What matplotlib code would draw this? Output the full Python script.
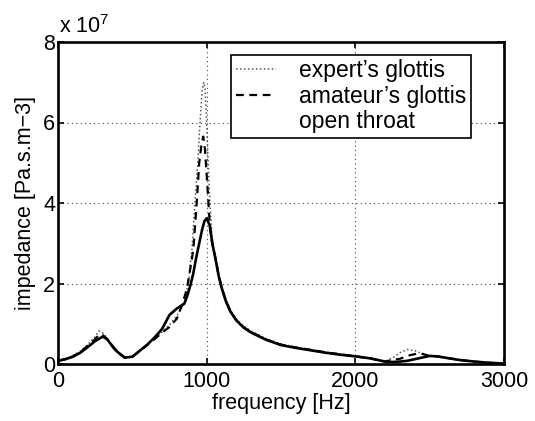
import matplotlib
matplotlib.use("Agg")
import matplotlib.pyplot as plt
from matplotlib.lines import Line2D

plt.rcParams['font.family'] = ['Liberation Sans', 'DejaVu Sans']
plt.rcParams['mathtext.fontset'] = 'custom'
plt.rcParams['mathtext.rm'] = 'Liberation Sans'
plt.rcParams['mathtext.it'] = 'Liberation Sans'

# Impedance values in units of 1e7 Pa.s.m-3, frequencies in Hz
freq_open = [0, 50, 100, 150, 200, 250, 300, 330, 350, 400, 450, 500, 550, 600, 650,
             700, 750, 800, 850, 870, 890, 910, 930, 950, 970, 985, 1000, 1020, 1040,
             1060, 1080, 1100, 1130, 1160, 1200, 1250, 1300, 1400, 1500, 1600, 1700,
             1800, 1900, 2000, 2100, 2200, 2250, 2300, 2350, 2400, 2450, 2500, 2550,
             2600, 2700, 2800, 2900, 3000]
z_open = [0.08, 0.12, 0.18, 0.28, 0.42, 0.57, 0.68, 0.62, 0.52, 0.30, 0.16, 0.18, 0.33,
          0.48, 0.66, 0.87, 1.22, 1.38, 1.50, 1.70, 1.95, 2.25, 2.65, 3.00, 3.35, 3.55,
          3.62, 3.45, 2.95, 2.60, 2.20, 1.90, 1.55, 1.30, 1.08, 0.90, 0.78, 0.60, 0.47,
          0.40, 0.34, 0.28, 0.23, 0.19, 0.14, 0.06, 0.05, 0.06, 0.08, 0.12, 0.16, 0.20,
          0.19, 0.16, 0.10, 0.06, 0.03, 0.01]

freq_amateur = [0, 50, 100, 150, 200, 250, 280, 300, 330, 350, 400, 450, 500, 550, 600,
                650, 700, 750, 800, 830, 866, 888, 910, 933, 950, 965, 977, 989, 1000,
                1011, 1020, 1035, 1050, 1080, 1100, 1130, 1160, 1200, 1250, 1300, 1400,
                1500, 1600, 1700, 1800, 1900, 2000, 2100, 2200, 2250, 2300, 2368, 2435,
                2480, 2500, 2550, 2600, 2700, 2800, 2900, 3000]
z_amateur = [0.08, 0.12, 0.19, 0.30, 0.45, 0.62, 0.74, 0.72, 0.62, 0.50, 0.28, 0.15, 0.18,
             0.32, 0.47, 0.62, 0.78, 0.92, 1.13, 1.42, 1.85, 2.33, 2.83, 4.00, 5.00, 5.45,
             5.65, 5.32, 4.70, 4.07, 3.50, 3.05, 2.80, 2.22, 1.91, 1.56, 1.31, 1.09, 0.91,
             0.79, 0.61, 0.48, 0.41, 0.35, 0.29, 0.24, 0.19, 0.14, 0.06, 0.10, 0.13, 0.22,
             0.27, 0.22, 0.20, 0.19, 0.16, 0.10, 0.06, 0.03, 0.01]

freq_expert = [0, 50, 100, 150, 200, 250, 275, 300, 330, 350, 400, 450, 500, 550, 600,
               650, 700, 750, 800, 830, 850, 877, 900, 921, 940, 955, 970, 980, 990,
               1000, 1010, 1022, 1035, 1050, 1080, 1100, 1130, 1160, 1200, 1250, 1300,
               1400, 1500, 1600, 1700, 1800, 1900, 2000, 2100, 2200, 2250, 2300, 2350,
               2400, 2450, 2500, 2550, 2600, 2700, 2800, 2900, 3000]
z_expert = [0.09, 0.13, 0.20, 0.32, 0.48, 0.68, 0.82, 0.78, 0.64, 0.52, 0.29, 0.15, 0.18,
            0.33, 0.48, 0.64, 0.80, 0.97, 1.20, 1.40, 1.55, 2.00, 2.80, 4.00, 5.00, 6.00,
            6.80, 7.00, 6.80, 6.00, 5.00, 4.00, 3.20, 2.85, 2.26, 1.95, 1.60, 1.34, 1.12,
            0.94, 0.82, 0.63, 0.50, 0.42, 0.36, 0.30, 0.25, 0.20, 0.15, 0.07, 0.15, 0.28,
            0.36, 0.33, 0.26, 0.21, 0.19, 0.16, 0.10, 0.06, 0.03, 0.01]

labels = ["expert\u2019s glottis", "amateur\u2019s glottis", "open throat"]
xticks = [0, 1000, 2000, 3000]
yticks = [0, 2, 4, 6, 8]

fig = plt.figure(figsize=(5.35, 4.21), dpi=100)
ax = fig.add_axes([58/535, 1 - 364/421, 446/535, 322/421])

dot_style = (0, (1, 1.6))
dash_style = (0, (3.5, 2.5))
ax.plot(freq_expert, z_expert, linestyle=dot_style, color='#555555', linewidth=1.1)
ax.plot(freq_amateur, z_amateur, linestyle=dash_style, color='black', linewidth=1.6)
ax.plot(freq_open, z_open, linestyle='-', color='black', linewidth=1.9)

ax.set_xlim(0, 3000)
ax.set_ylim(0, 8)
ax.set_xticks(xticks)
ax.set_yticks(yticks)
ax.grid(True, linestyle=(0, (1, 3)), color='#444444', linewidth=0.8)
ax.set_axisbelow(True)

for s in ax.spines.values():
    s.set_linewidth(1.9)
ax.tick_params(direction='in', length=4, width=1.2, top=True, right=True,
               labelsize=15.5, pad=5)
ax.tick_params(axis='y', pad=2)

ax.set_xlabel("frequency [Hz]", fontsize=15.5, labelpad=1)
ax.set_ylabel("impedance [Pa.s.m\u22123]", fontsize=15.5, labelpad=5)
ax.text(0.003, 1.012, r"x 10$^{7}$", transform=ax.transAxes, fontsize=15.5,
        ha='left', va='bottom')

handles = [Line2D([], [], linestyle=dot_style, color='#555555', linewidth=1.1),
           Line2D([], [], linestyle=dash_style, color='black', linewidth=1.6),
           Line2D([], [], linestyle='none')]
leg = ax.legend(handles, labels, loc='upper right', bbox_to_anchor=(0.925, 0.96),
                borderaxespad=0, fontsize=16.5, frameon=True, fancybox=False,
                edgecolor='black', framealpha=1, handlelength=1.75, handletextpad=1.0,
                labelspacing=0.1, borderpad=0.2)
leg.get_frame().set_linewidth(1.2)

fig.savefig("out.png", dpi=100)
